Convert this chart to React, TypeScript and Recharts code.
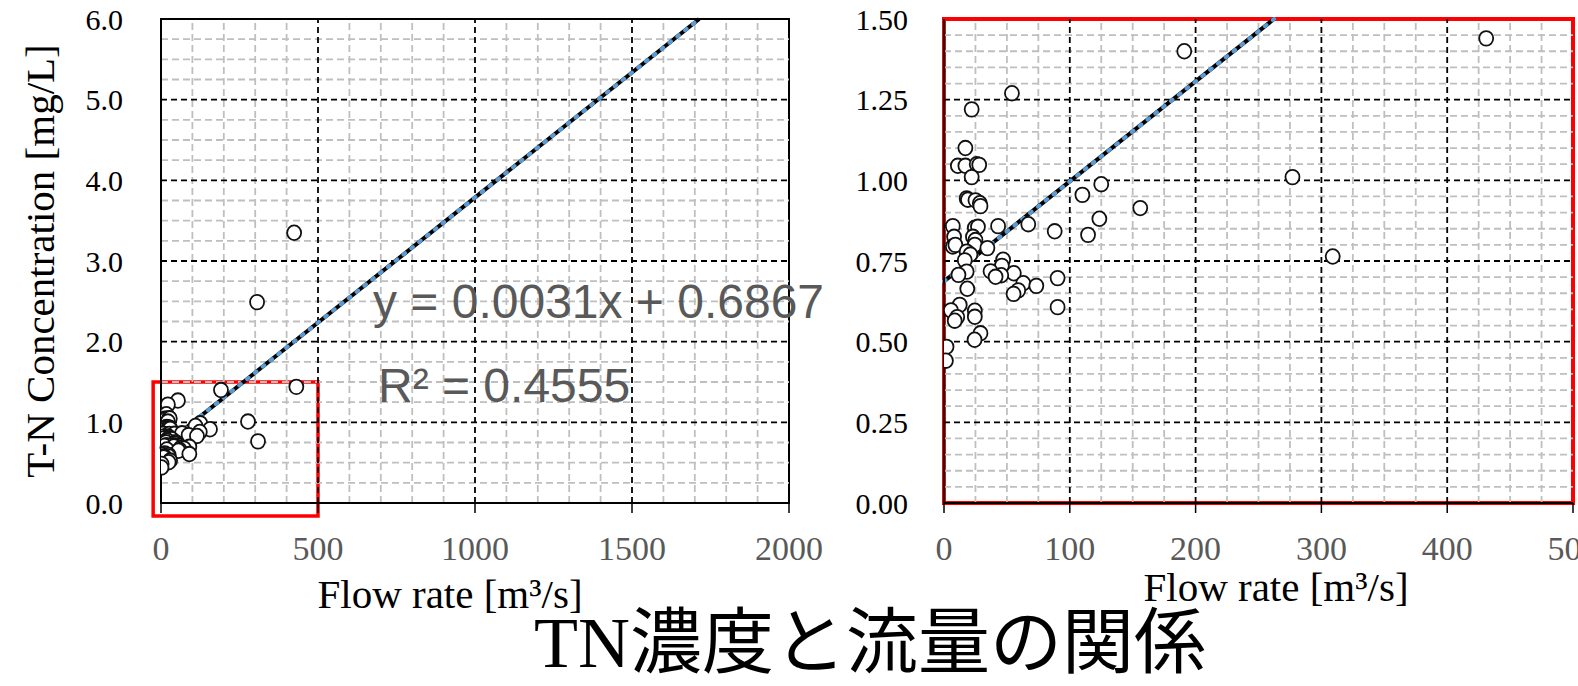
import React from 'react';
import { ScatterChart, Scatter, XAxis, YAxis, ReferenceLine, ReferenceArea } from 'recharts';

// ---- data ----
const flowRate = [431, 191, 54, 22, 17, 11, 17, 26, 28, 22, 277, 125, 110, 18, 19, 25, 28.5, 29, 156, 7, 24.5, 27, 43, 67, 123.5, 88, 114.5, 8, 23, 25, 7, 9, 24.5, 34.5, 18, 21, 16.5, 309, 47, 46, 18, 37, 11.5, 55.5, 45.5, 41, 90.3, 63, 73.4, 18.5, 59, 55.3, 12.5, 5.5, 24.5, 24.5, 10.5, 8.5, 90.3, 29, 24.3, 2, 1.5, 306, 424];
const tnConc = [1.44, 1.40, 1.27, 1.22, 1.10, 1.045, 1.045, 1.05, 1.048, 1.01, 1.01, 0.988, 0.955, 0.944, 0.94, 0.938, 0.929, 0.92, 0.914, 0.858, 0.853, 0.856, 0.858, 0.864, 0.881, 0.842, 0.831, 0.825, 0.825, 0.815, 0.795, 0.80, 0.80, 0.79, 0.779, 0.77, 0.752, 0.764, 0.754, 0.735, 0.717, 0.718, 0.707, 0.712, 0.706, 0.701, 0.697, 0.681, 0.673, 0.664, 0.659, 0.648, 0.614, 0.597, 0.596, 0.577, 0.576, 0.565, 0.607, 0.526, 0.506, 0.484, 0.441, 2.49, 3.35];

const trendSlope = 0.0031;
const trendIntercept = 0.6867;
const equationText = 'y = 0.0031x + 0.6867';
const r2Text = 'R² = 0.4555';

const leftXTicks = [0, 500, 1000, 1500, 2000];
const leftYTicks = [0, 1, 2, 3, 4, 5, 6];
const rightXTicks = [0, 100, 200, 300, 400, 500];
const rightYTicks = [0, 0.25, 0.5, 0.75, 1.0, 1.25, 1.5];

const chartTitle = 'TN濃度と流量の関係';
const xTitle = 'Flow rate [m³/s]';
const yTitle = 'T-N Concentration [mg/L]';

const points = flowRate.map((x, i) => ({ x, y: tnConc[i] }));
const zoomPoints = points.filter((p) => p.x <= 500 && p.y <= 1.5);

function steps(max: number, step: number, majorStep: number) {
  const out: number[] = [];
  const n = Math.round(max / step);
  for (let i = 1; i < n; i++) {
    const v = +(i * step).toFixed(4);
    const r = v / majorStep;
    if (Math.abs(r - Math.round(r)) > 1e-6) out.push(v);
  }
  return out;
}

const SERIF = '"Liberation Serif", "Times New Roman", serif';
const SANS = '"Liberation Sans", Arial, sans-serif';
const MINOR = '#BFBFBF';

const dot = (p: any) => (
  <ellipse cx={p.cx} cy={p.cy} rx={7} ry={7.3} fill="#ffffff" stroke="#111111" strokeWidth={1.8} />
);

function gridLines(xMinor: number[], yMinor: number[], xMajor: number[], yMajor: number[]) {
  const els: React.ReactNode[] = [];
  xMinor.forEach((v) => els.push(<ReferenceLine key={'xm' + v} x={v} stroke={MINOR} strokeWidth={1.8} strokeDasharray="7 4" />));
  yMinor.forEach((v) => els.push(<ReferenceLine key={'ym' + v} y={v} stroke={MINOR} strokeWidth={1.8} strokeDasharray="7 4" />));
  xMajor.forEach((v) => els.push(<ReferenceLine key={'xM' + v} x={v} stroke="#000" strokeWidth={1.8} strokeDasharray="6 4" />));
  yMajor.forEach((v) => els.push(<ReferenceLine key={'yM' + v} y={v} stroke="#000" strokeWidth={1.8} strokeDasharray="6 4" />));
  return els;
}

function trend(xMaxY: number) {
  const seg = [
    { x: 0, y: trendIntercept },
    { x: (xMaxY - trendIntercept) / trendSlope, y: xMaxY },
  ];
  return [
    <ReferenceLine key="t1" segment={seg} stroke="#000" strokeWidth={4} ifOverflow="visible" />,
    <ReferenceLine key="t2" segment={seg} stroke="#5B9BD5" strokeWidth={4} strokeDasharray="2 8" strokeLinecap="round" ifOverflow="visible" />,
  ];
}

export default function App() {
  return (
    <div style={{ position: 'absolute', left: 0, top: 0, width: 1578, height: 686, background: '#fff', overflow: 'hidden' }}>
      <style>{'body{margin:0;overflow:hidden}'}</style>
      <div style={{ position: 'absolute', left: 0, top: 0 }}>
        <ScatterChart width={860} height={620} margin={{ top: 19, right: 71, bottom: 0, left: 0 }}>
          <XAxis
            type="number" dataKey="x" domain={[0, 2000]} ticks={leftXTicks} interval={0} allowDataOverflow
            height={117} tickSize={10} tickMargin={23}
            axisLine={{ stroke: '#000', strokeWidth: 2 }} tickLine={{ stroke: '#000', strokeWidth: 1.5 }}
            tick={{ fill: '#595959', fontSize: 34, fontFamily: SERIF }}
          />
          <YAxis
            type="number" dataKey="y" domain={[0, 6]} ticks={leftYTicks} interval={0} allowDataOverflow
            width={161} tickSize={0} tickMargin={38} tickFormatter={(v: number) => v.toFixed(1)}
            axisLine={{ stroke: '#000', strokeWidth: 2 }} tickLine={false}
            tick={{ fill: '#000', fontSize: 30, fontFamily: SERIF }}
          />
          {gridLines(steps(2000, 100, 500), steps(6, 0.25, 1), [500, 1000, 1500], [1, 2, 3, 4, 5])}
          <ReferenceArea x1={0} x2={2000} y1={0} y2={6} fill="none" stroke="#000" strokeWidth={2} ifOverflow="visible" />
          {trend(6)}
          <Scatter data={points} shape={dot} isAnimationActive={false} />
          <ReferenceArea x1={-25} x2={500} y1={-0.16} y2={1.5} fill="none" stroke="#FF0000" strokeWidth={3.5} ifOverflow="visible" />
        </ScatterChart>
      </div>
      <div style={{ position: 'absolute', left: 820, top: 0 }}>
        <ScatterChart width={758} height={620} margin={{ top: 19, right: 5, bottom: 0, left: 0 }}>
          <XAxis
            type="number" dataKey="x" domain={[0, 500]} ticks={rightXTicks} interval={0} allowDataOverflow
            height={117} tickSize={10} tickMargin={23}
            axisLine={{ stroke: '#000', strokeWidth: 2 }} tickLine={{ stroke: '#000', strokeWidth: 1.5 }}
            tick={{ fill: '#595959', fontSize: 34, fontFamily: SERIF }}
          />
          <YAxis
            type="number" dataKey="y" domain={[0, 1.5]} ticks={rightYTicks} interval={0} allowDataOverflow
            width={124} tickSize={0} tickMargin={36} tickFormatter={(v: number) => v.toFixed(2)}
            axisLine={{ stroke: '#000', strokeWidth: 2 }} tickLine={false}
            tick={{ fill: '#000', fontSize: 30, fontFamily: SERIF }}
          />
          {gridLines(steps(500, 25, 100), steps(1.5, 0.05, 0.25), [100, 200, 300, 400], [0.25, 0.5, 0.75, 1.0, 1.25])}
          {trend(1.5)}
          <Scatter data={zoomPoints} shape={dot} isAnimationActive={false} />
          <ReferenceArea x1={0} x2={500} y1={0} y2={1.5} fill="none" stroke="#FF0000" strokeWidth={4} ifOverflow="visible" />
        </ScatterChart>
      </div>
      <svg width={1578} height={686} style={{ position: 'absolute', left: 0, top: 0, pointerEvents: 'none' }}>
        <text x={373} y={318} fontFamily={SANS} fontSize={48} fill="#595959">{equationText}</text>
        <text x={378} y={402} fontFamily={SANS} fontSize={48} fill="#595959">{r2Text}</text>
        <text x={450} y={608} fontFamily={SERIF} fontSize={41} fill="#000" textAnchor="middle">{xTitle}</text>
        <text x={1276} y={601} fontFamily={SERIF} fontSize={41} fill="#000" textAnchor="middle">{xTitle}</text>
        <text x={0} y={0} transform="translate(54,261) rotate(-90)" fontFamily={SERIF} fontSize={41} fill="#000" textAnchor="middle">{yTitle}</text>
        <text x={870} y={667} fontFamily={'"Liberation Serif", "Noto Sans CJK JP", serif'} fontSize={72} fill="#000" textAnchor="middle">{chartTitle}</text>
      </svg>
    </div>
  );
}
